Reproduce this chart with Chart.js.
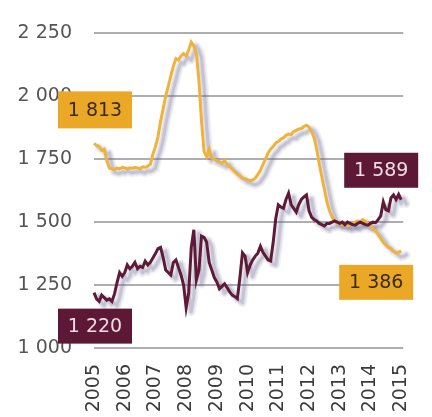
<!DOCTYPE html>
<html>
<head>
<meta charset="utf-8">
<script src="https://cdn.jsdelivr.net/npm/chart.js@4/dist/chart.umd.min.js"></script>
<style>
  html, body { margin: 0; padding: 0; background: #ffffff; }
  #wrap { width: 432px; height: 417px; }
</style>
</head>
<body>
<div id="wrap"><canvas id="c" width="432" height="417"></canvas></div>
<script>
// Monthly observations, January 2005 to January 2015
const months = [];
for (let y = 2005; y <= 2014; y++) {
  for (let m = 1; m <= 12; m++) months.push(y + '-' + String(m).padStart(2, '0'));
}
months.push('2015-01');

const goldSeries = [
  1813, 1805, 1800, 1785, 1790, 1745, 1715, 1712, 1710, 1715, 1712, 1718,
  1715, 1712, 1716, 1714, 1718, 1715, 1712, 1720, 1718, 1722, 1730, 1770,
  1800, 1840, 1900, 1950, 2000, 2040, 2080, 2120, 2150, 2145, 2160, 2170,
  2160, 2185, 2215, 2200, 2170, 2060, 1900, 1780, 1760, 1790, 1755, 1750,
  1745, 1740, 1735, 1745, 1730, 1720, 1712, 1700, 1690, 1685, 1675, 1672,
  1668, 1665, 1668, 1675, 1690, 1705, 1730, 1750, 1775, 1790, 1800, 1815,
  1820, 1830, 1835, 1845, 1850, 1848, 1860, 1865, 1870, 1872, 1880, 1885,
  1878, 1860, 1835, 1790, 1730, 1680, 1630, 1580, 1545, 1520, 1505, 1495,
  1500, 1490, 1495, 1485, 1490, 1495, 1500, 1505, 1500, 1510, 1505, 1495,
  1485, 1475, 1465, 1450, 1435, 1420, 1410, 1400, 1395, 1385, 1378, 1380,
  1386
];

const maroonSeries = [
  1220, 1195, 1185, 1210, 1200, 1190, 1195, 1185, 1215, 1260, 1300, 1285,
  1300, 1330, 1315, 1325, 1340, 1315, 1325, 1320, 1345, 1330, 1340, 1358,
  1375, 1395, 1400, 1360, 1310, 1300, 1290, 1340, 1350, 1320, 1290, 1250,
  1160, 1220, 1400, 1470, 1270, 1310, 1445, 1440, 1420, 1340, 1310, 1280,
  1262, 1235, 1245, 1255, 1240, 1223, 1210, 1204, 1196, 1280, 1378, 1365,
  1300, 1330, 1350, 1365, 1377, 1404, 1380, 1365, 1350, 1346, 1420, 1515,
  1569, 1560, 1555, 1590, 1615, 1570, 1555, 1540, 1570, 1590, 1600, 1608,
  1545, 1520, 1510, 1505, 1495, 1490, 1485, 1495, 1495, 1500, 1505, 1500,
  1495, 1500, 1490, 1500, 1495, 1490, 1488, 1495, 1500, 1495, 1490, 1488,
  1495, 1500, 1498, 1510, 1525, 1580, 1550, 1545, 1596, 1608, 1590, 1610,
  1589
];

const yTicks = [1000, 1250, 1500, 1750, 2000, 2250];

const GOLD_LINE = '#f0b23a';
const GOLD_BOX = '#eaa826';
const MAROON_LINE = '#5e1a36';
const MAROON_BOX = '#5c1834';
const GRID = '#aeaeb2';
const FONT = 'DejaVu Sans';

function spaced(n) {
  return String(n).replace(/\B(?=(\d{3})+(?!\d))/g, ' ');
}

// Horizontal guide bands at each value tick, painted first
const guideBands = {
  id: 'guideBands',
  beforeDraw(chart) {
    const c = chart.ctx;
    const ys = chart.scales.y;
    const { left, right } = chart.chartArea;
    c.save();
    c.fillStyle = GRID;
    yTicks.forEach(v => {
      const y = Math.round(ys.getPixelForValue(v));
      c.fillRect(left, y - 1, right + 2 - left, 2);
    });
    c.restore();
  }
};

// Soft offset shadow of each series, under the lines
const lineShadow = {
  id: 'lineShadow',
  beforeDatasetsDraw(chart) {
    const c = chart.ctx;
    c.save();
    c.lineJoin = 'round';
    c.lineCap = 'round';
    const layers = [
      { w: 9, a: 0.09 },
      { w: 6, a: 0.15 },
      { w: 3, a: 0.22 }
    ];
    chart.getSortedVisibleDatasetMetas().forEach(meta => {
      layers.forEach(l => {
        c.strokeStyle = 'rgba(105,105,140,' + l.a + ')';
        c.lineWidth = l.w;
        c.beginPath();
        meta.data.forEach((p, k) => {
          if (k === 0) c.moveTo(p.x + 5, p.y + 4); else c.lineTo(p.x + 5, p.y + 4);
        });
        c.stroke();
      });
    });
    c.restore();
  }
};

// Boxed start/end value labels
const endLabels = {
  id: 'endLabels',
  afterDraw(chart) {
    const c = chart.ctx;
    const xs = chart.scales.x, ys = chart.scales.y;
    const last = months.length - 1;
    const boxes = [
      { i: 0, v: goldSeries[0], bg: GOLD_BOX, fg: '#3a2a12', dx: -36, dy: -52, w: 74, h: 37 },
      { i: 0, v: maroonSeries[0], bg: MAROON_BOX, fg: '#efdde4', dx: -36, dy: 16, w: 74, h: 35 },
      { i: last, v: maroonSeries[last], bg: MAROON_BOX, fg: '#efdde4', dx: -57, dy: -47, w: 74, h: 35 },
      { i: last, v: goldSeries[last], bg: GOLD_BOX, fg: '#3a2a12', dx: -62, dy: 14, w: 74, h: 35 }
    ];
    c.save();
    c.font = '19px "' + FONT + '"';
    c.textAlign = 'center';
    c.textBaseline = 'middle';
    boxes.forEach(b => {
      const px = xs.getPixelForValue(b.i);
      const py = ys.getPixelForValue(b.v);
      const left = px + b.dx, top = py + b.dy;
      c.fillStyle = b.bg;
      c.fillRect(left, top, b.w, b.h);
      c.fillStyle = b.fg;
      c.fillText(spaced(b.v), left + b.w / 2, top + b.h / 2 + 1);
    });
    c.restore();
  }
};

new Chart(document.getElementById('c'), {
  type: 'line',
  data: {
    labels: months,
    datasets: [
      {
        data: maroonSeries,
        borderColor: MAROON_LINE,
        borderWidth: 3,
        pointRadius: 0,
        tension: 0,
        clip: false
      },
      {
        data: goldSeries,
        borderColor: GOLD_LINE,
        borderWidth: 3,
        pointRadius: 0,
        tension: 0,
        clip: false
      }
    ]
  },
  options: {
    responsive: false,
    animation: false,
    devicePixelRatio: 1,
    layout: { padding: { left: 0, right: 16, top: 23, bottom: 0 } },
    plugins: {
      legend: { display: false },
      tooltip: { enabled: false }
    },
    scales: {
      x: {
        type: 'category',
        grid: { display: false },
        border: { display: false },
        ticks: {
          autoSkip: false,
          minRotation: 90,
          maxRotation: 90,
          padding: 8,
          color: '#3c3c3c',
          font: { family: FONT, size: 19 },
          callback: (v, i) => months[i].endsWith('-01') ? months[i].slice(0, 4) : ''
        },
        afterFit: s => { s.height = 69; }
      },
      y: {
        min: yTicks[0],
        max: yTicks[yTicks.length - 1],
        grid: { color: GRID, lineWidth: 2, drawTicks: false },
        border: { display: false },
        ticks: {
          stepSize: 250,
          padding: 22,
          color: '#555555',
          font: { family: FONT, size: 19 },
          callback: v => spaced(v)
        },
        afterFit: s => { s.width = 94; }
      }
    }
  },
  plugins: [guideBands, lineShadow, endLabels]
});
</script>
</body>
</html>
